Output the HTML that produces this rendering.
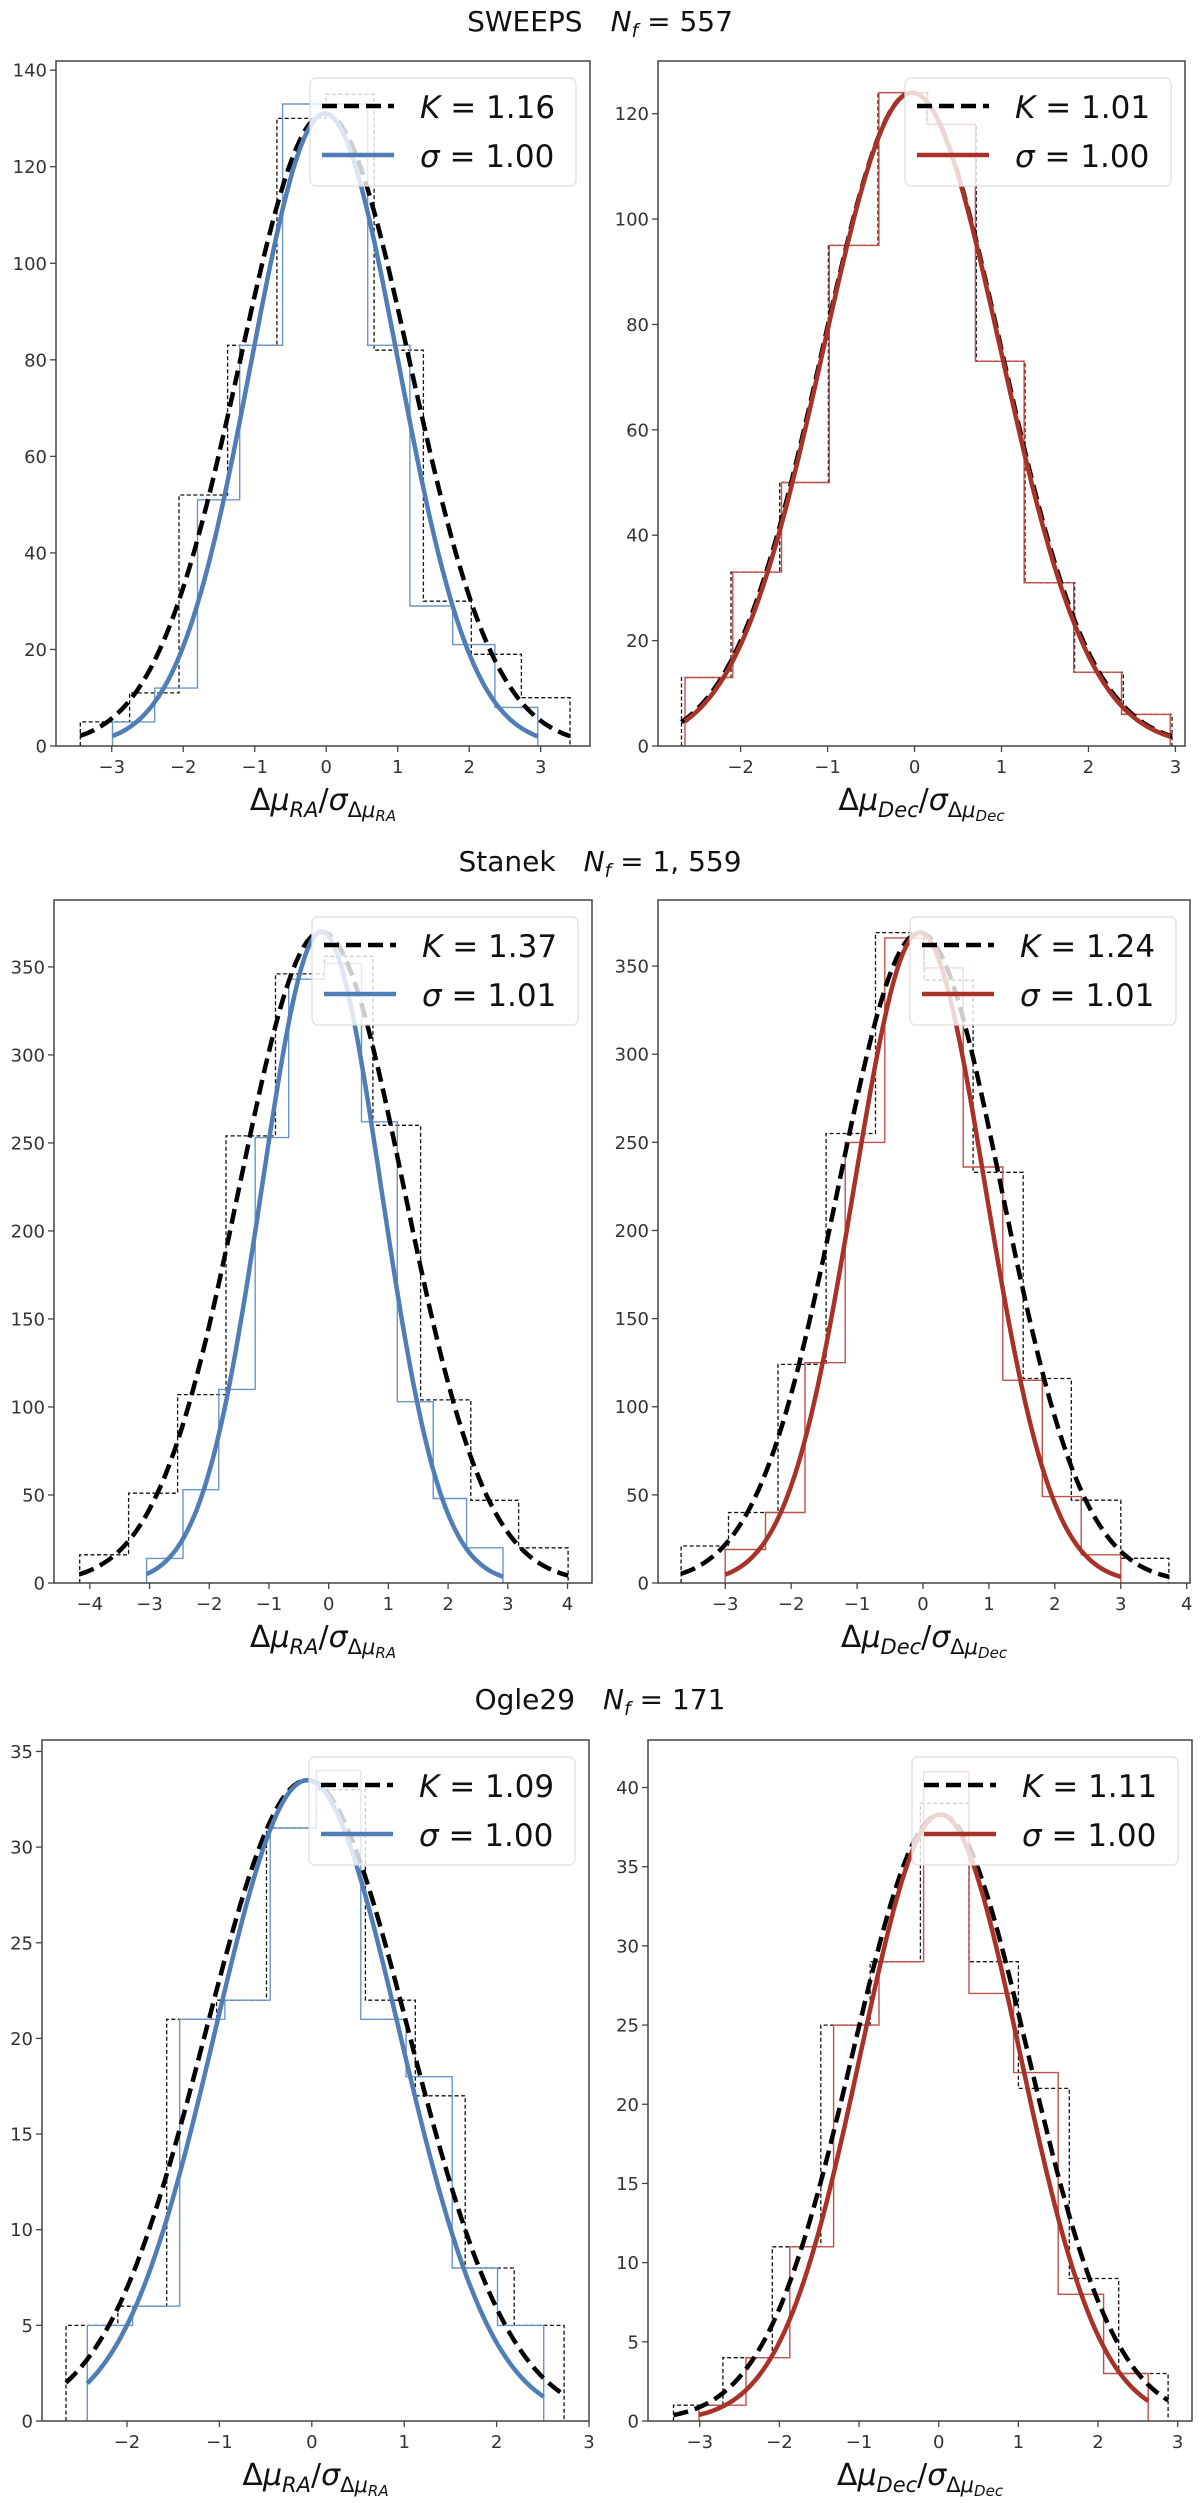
<!DOCTYPE html>
<html><head><meta charset="utf-8"><style>
html,body{margin:0;padding:0;background:#fff}
svg{display:block}
text{font-family:"DejaVu Sans","Liberation Sans",sans-serif}
</style></head><body>
<svg id="fig" width="1200" height="2503" viewBox="0 0 1200 2503" xmlns="http://www.w3.org/2000/svg">
<text x="600" y="31" text-anchor="middle" font-size="28" fill="#111">SWEEPS<tspan dx="28" font-style="italic">N</tspan><tspan font-style="italic" font-size="19" dy="6">f</tspan><tspan dy="-6"> = 557</tspan></text>
<text x="600" y="871" text-anchor="middle" font-size="28" fill="#111">Stanek<tspan dx="28" font-style="italic">N</tspan><tspan font-style="italic" font-size="19" dy="6">f</tspan><tspan dy="-6"> = 1, 559</tspan></text>
<text x="600" y="1709" text-anchor="middle" font-size="28" fill="#111">Ogle29<tspan dx="28" font-style="italic">N</tspan><tspan font-style="italic" font-size="19" dy="6">f</tspan><tspan dy="-6"> = 171</tspan></text>
</svg>
<script>
// ---- data ----
const p1Edges=[-2.99,-2.40,-1.80,-1.21,-0.61,-0.02,0.58,1.17,1.77,2.36,2.96];
const p1Counts=[5,12,51,83,133,133,83,29,21,8];
const p1KEdges=[-3.44,-2.75,-2.06,-1.38,-0.69,0.0,0.67,1.36,2.03,2.73,3.41];
const p1KCounts=[5,11,52,83,130,135,82,30,19,10];
const p1Fit=[131,-0.02,1.03,-2.99,2.96];
const p1KFit=[131,-0.02,1.19,-3.44,3.41];
const p1XTicks=[-3,-2,-1,0,1,2,3];
const p1YTicks=[0,20,40,60,80,100,120,140];
const p1Labels=["1.16","1.00"];

const p2Edges=[-2.64,-2.09,-1.53,-0.98,-0.41,0.15,0.70,1.26,1.83,2.38,2.94];
const p2Counts=[13,33,50,95,124,118,73,31,14,6];
const p2KEdges=[-2.68,-2.11,-1.55,-0.99,-0.42,0.14,0.71,1.27,1.84,2.40,2.96];
const p2KCounts=[13,33,50,95,124,118,73,31,14,6];
const p2Fit=[124,-0.03,1.02,-2.64,2.94];
const p2KFit=[124,-0.03,1.03,-2.68,2.96];
const p2XTicks=[-2,-1,0,1,2,3];
const p2YTicks=[0,20,40,60,80,100,120];
const p2Labels=["1.01","1.00"];

const p3Edges=[-3.05,-2.44,-1.84,-1.23,-0.67,-0.07,0.55,1.15,1.75,2.31,2.92];
const p3Counts=[14,53,110,253,343,352,262,103,48,20];
const p3KEdges=[-4.17,-3.35,-2.53,-1.72,-0.89,-0.07,0.74,1.54,2.38,3.18,4.01];
const p3KCounts=[16,51,107,254,346,356,260,104,47,20];
const p3Fit=[370,-0.12,1.0,-3.05,2.92];
const p3KFit=[370,-0.12,1.38,-4.17,4.01];
const p3XTicks=[-4,-3,-2,-1,0,1,2,3,4];
const p3YTicks=[0,50,100,150,200,250,300,350];
const p3Labels=["1.37","1.01"];

const p4Edges=[-3.0,-2.39,-1.79,-1.18,-0.58,0.01,0.61,1.21,1.81,2.40,3.0];
const p4Counts=[19,40,125,250,366,349,236,115,49,16];
const p4KEdges=[-3.67,-2.95,-2.20,-1.47,-0.72,0.02,0.76,1.52,2.25,3.0,3.73];
const p4KCounts=[21,40,124,255,369,342,233,116,47,14];
const p4Fit=[369,-0.05,1.0,-3.0,3.0];
const p4KFit=[369,-0.05,1.24,-3.67,3.73];
const p4XTicks=[-3,-2,-1,0,1,2,3,4];
const p4YTicks=[0,50,100,150,200,250,300,350];
const p4Labels=["1.24","1.01"];

const p5Edges=[-2.43,-1.94,-1.43,-0.94,-0.45,0.05,0.53,1.02,1.52,2.01,2.51];
const p5Counts=[5,6,21,22,31,34,21,18,8,5];
const p5KEdges=[-2.66,-2.10,-1.57,-1.03,-0.49,0.05,0.58,1.12,1.66,2.19,2.73];
const p5KCounts=[5,6,21,22,31,33,22,17,8,5];
const p5Fit=[33.5,-0.05,1.0,-2.43,2.51];
const p5KFit=[33.5,-0.05,1.1,-2.66,2.73];
const p5XTicks=[-2,-1,0,1,2,3];
const p5YTicks=[0,5,10,15,20,25,30,35];
const p5Labels=["1.09","1.00"];

const p6Edges=[-3.01,-2.42,-1.87,-1.32,-0.75,-0.19,0.38,0.94,1.50,2.07,2.63];
const p6Counts=[1,4,11,25,29,41,27,22,8,3];
const p6KEdges=[-3.33,-2.71,-2.09,-1.48,-0.86,-0.23,0.38,1.0,1.64,2.26,2.88];
const p6KCounts=[1,4,11,25,29,39,29,21,9,3];
const p6Fit=[38.3,0.02,1.0,-3.01,2.63];
const p6KFit=[38.3,0.02,1.1,-3.33,2.88];
const p6XTicks=[-3,-2,-1,0,1,2,3];
const p6YTicks=[0,5,10,15,20,25,30,35,40];
const p6Labels=["1.11","1.00"];

const BLUE="#4f7db5", BLUEH="#6b95c8", RED="#a83228", REDH="#c0504a";
const NS="http://www.w3.org/2000/svg";
const svg=document.getElementById('fig');
function mk(tag,attrs,parent){const e=document.createElementNS(NS,tag);for(const k in attrs)e.setAttribute(k,attrs[k]);(parent||svg).appendChild(e);return e;}

const panels=[
 {id:'sweeps-ra',box:[56,61,590,746],xl:[-3.78,3.69],yl:[0,141.9],e:p1Edges,c:p1Counts,ke:p1KEdges,kc:p1KCounts,f:p1Fit,kf:p1KFit,xt:p1XTicks,yt:p1YTicks,lab:p1Labels,col:BLUE,hc:BLUEH,ax:'RA'},
 {id:'sweeps-dec',box:[658,61,1185,746],xl:[-2.95,3.11],yl:[0,130],e:p2Edges,c:p2Counts,ke:p2KEdges,kc:p2KCounts,f:p2Fit,kf:p2KFit,xt:p2XTicks,yt:p2YTicks,lab:p2Labels,col:RED,hc:REDH,ax:'Dec'},
 {id:'stanek-ra',box:[54,900,592,1583],xl:[-4.6,4.41],yl:[0,388],e:p3Edges,c:p3Counts,ke:p3KEdges,kc:p3KCounts,f:p3Fit,kf:p3KFit,xt:p3XTicks,yt:p3YTicks,lab:p3Labels,col:BLUE,hc:BLUEH,ax:'RA'},
 {id:'stanek-dec',box:[658,900,1190,1583],xl:[-4.02,4.05],yl:[0,387.5],e:p4Edges,c:p4Counts,ke:p4KEdges,kc:p4KCounts,f:p4Fit,kf:p4KFit,xt:p4XTicks,yt:p4YTicks,lab:p4Labels,col:RED,hc:REDH,ax:'Dec'},
 {id:'ogle29-ra',box:[42,1740,589,2421],xl:[-2.92,3.0],yl:[0,35.6],e:p5Edges,c:p5Counts,ke:p5KEdges,kc:p5KCounts,f:p5Fit,kf:p5KFit,xt:p5XTicks,yt:p5YTicks,lab:p5Labels,col:BLUE,hc:BLUEH,ax:'RA'},
 {id:'ogle29-dec',box:[648,1740,1192,2421],xl:[-3.65,3.18],yl:[0,43],e:p6Edges,c:p6Counts,ke:p6KEdges,kc:p6KCounts,f:p6Fit,kf:p6KFit,xt:p6XTicks,yt:p6YTicks,lab:p6Labels,col:RED,hc:REDH,ax:'Dec'}
];

function stepPath(edges,counts,X,Y){
  let d='M'+X(edges[0]).toFixed(1)+','+Y(0).toFixed(1);
  for(let i=0;i<counts.length;i++){
    d+=' L'+X(edges[i]).toFixed(1)+','+Y(counts[i]).toFixed(1)+' L'+X(edges[i+1]).toFixed(1)+','+Y(counts[i]).toFixed(1);
  }
  d+=' L'+X(edges[edges.length-1]).toFixed(1)+','+Y(0).toFixed(1);
  return d;
}
function gaussPath(p,X,Y){
  const [A,mu,s,a,b]=p;let d='';const n=120;
  for(let i=0;i<=n;i++){const x=a+(b-a)*i/n;const y=A*Math.exp(-(x-mu)*(x-mu)/(2*s*s));d+=(i?' L':'M')+X(x).toFixed(1)+','+Y(y).toFixed(1);}
  return d;
}
function fmt(v){return (v<0?'\u2212':'')+Math.abs(v);}

panels.forEach(P=>{
  const [x0,y0,x1,y1]=P.box;
  const X=v=>x0+(v-P.xl[0])/(P.xl[1]-P.xl[0])*(x1-x0);
  const Y=v=>y1-(v-P.yl[0])/(P.yl[1]-P.yl[0])*(y1-y0);
  const g=mk('g',{});
  
  
  const cid='clip-'+P.id;
  const cp=mk('clipPath',{id:cid},g);mk('rect',{x:x0,y:y0,width:x1-x0,height:y1-y0},cp);
  const plot=mk('g',{'clip-path':'url(#'+cid+')'},g);
  // histograms
  const hk=mk('path',{d:stepPath(P.ke,P.kc,X,Y),fill:'none',stroke:'#111','stroke-width':1.3,'stroke-dasharray':'4 2.5'},plot);
  
  
  const hs=mk('path',{d:stepPath(P.e,P.c,X,Y),fill:'none',stroke:P.hc,'stroke-width':1.4},plot);
  
  
  // curves
  const ck=mk('path',{d:gaussPath(P.kf,X,Y),fill:'none',stroke:'#000','stroke-width':4.5,'stroke-dasharray':'15 7'},plot);
  
  
  const cs=mk('path',{d:gaussPath(P.f,X,Y),fill:'none',stroke:P.col,'stroke-width':4.5},plot);
  
  
  // spines
  const sp=mk('rect',{x:x0,y:y0,width:x1-x0,height:y1-y0,fill:'none',stroke:'#444','stroke-width':1.5},g);
  
  
  // ticks
  P.xt.forEach(t=>{const x=X(t);mk('line',{x1:x,x2:x,y1:y1,y2:y1+6,stroke:'#444','stroke-width':1.3},g);
    const tx=mk('text',{x:x,y:y1+27,'text-anchor':'middle','font-size':18,fill:'#333'},g);tx.textContent=fmt(t);
    
    });
  P.yt.forEach(t=>{const y=Y(t);mk('line',{x1:x0-6,x2:x0,y1:y,y2:y,stroke:'#444','stroke-width':1.3},g);
    const tx=mk('text',{x:x0-9,y:y+6.5,'text-anchor':'end','font-size':18,fill:'#333'},g);tx.textContent=fmt(t);
    
    });
  // x axis label
  const xl=mk('text',{x:(x0+x1)/2,y:y1+64,'text-anchor':'middle','font-size':30,fill:'#111'},g);
  
  
  xl.innerHTML='\u0394<tspan font-style="italic">\u03bc</tspan><tspan font-style="italic" font-size="21" dy="7">'+P.ax+'</tspan><tspan dy="-7">/</tspan><tspan font-style="italic">\u03c3</tspan><tspan font-size="21" dy="7">\u0394</tspan><tspan font-style="italic" font-size="21">\u03bc</tspan><tspan font-style="italic" font-size="15" dy="4">'+P.ax+'</tspan>';
  // legend
  const lw=266,lh=108,lx=x1-14-lw,ly=y0+17;
  const lg=mk('g',{},g);
  
  
  mk('rect',{x:lx,y:ly,width:lw,height:lh,rx:6,fill:'rgba(255,255,255,0.8)',stroke:'#ddd','stroke-width':1.2},lg);
  mk('line',{x1:lx+12,x2:lx+84,y1:ly+28,y2:ly+28,stroke:'#000','stroke-width':4.5,'stroke-dasharray':'15 7'},lg);
  mk('line',{x1:lx+12,x2:lx+84,y1:ly+77,y2:ly+77,stroke:P.col,'stroke-width':4.5},lg);
  const t1=mk('text',{x:lx+110,y:ly+40,'font-size':31,fill:'#111'},lg);
  
  
  t1.innerHTML='<tspan font-style="italic">K</tspan> = '+P.lab[0];
  const t2=mk('text',{x:lx+110,y:ly+89,'font-size':31,fill:'#111'},lg);
  
  
  t2.innerHTML='<tspan font-style="italic">\u03c3</tspan> = '+P.lab[1];
});
</script>
</body></html>
